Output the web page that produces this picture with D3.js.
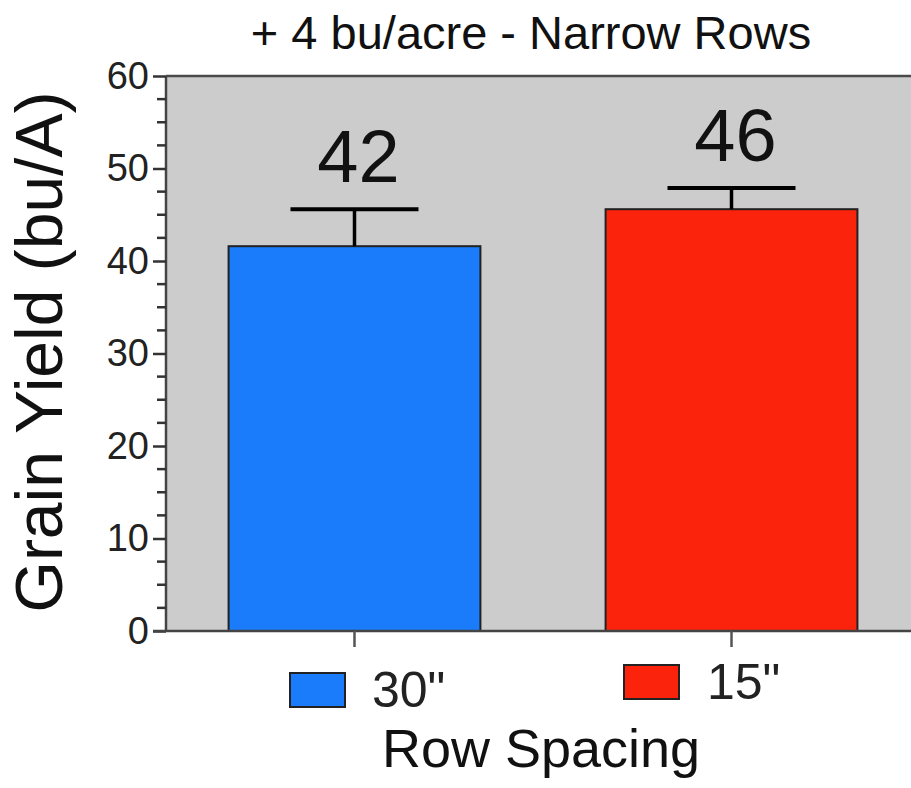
<!DOCTYPE html>
<html>
<head>
<meta charset="utf-8">
<script src="https://cdn.jsdelivr.net/npm/d3@7"></script>
<style>
  html, body { margin: 0; padding: 0; background: #fff; }
  svg { display: block; font-family: "Liberation Sans", Arial, Helvetica, sans-serif; }
</style>
</head>
<body>
<svg id="chart" width="911" height="788"></svg>
<script>
// Row spacing treatments and their mean grain yield (bu/A) with error (SE)
const categories = ['30"', '15"'];
const yieldMeans = [41.6, 45.6];
const yieldErrors = [4.0, 2.3];
const barColors = ["#1a7cfb", "#fb230b"];
const yTicks = [0, 10, 20, 30, 40, 50, 60];
const chartTitle = "+ 4 bu/acre - Narrow Rows";
const xTitle = "Row Spacing";
const yTitle = "Grain Yield (bu/A)";

const svg = d3.select("#chart");
const W = 911, H = 788;
const plot = { left: 166, top: 76, bottom: 631, right: 920 };

const rows = categories.map((c, i) => ({ cat: c, mean: yieldMeans[i], err: yieldErrors[i], color: barColors[i] }));

const x = d3.scaleBand()
  .domain(categories)
  .range([plot.left, plot.right])
  .paddingInner(0.332)
  .paddingOuter(0.166);

const y = d3.scaleLinear().domain([0, 60]).range([plot.bottom, plot.top]);

// plot area background
svg.append("rect")
  .attr("x", plot.left).attr("y", plot.top)
  .attr("width", plot.right - plot.left).attr("height", plot.bottom - plot.top)
  .attr("fill", "#cccccc");

// top frame line
svg.append("line")
  .attr("x1", plot.left).attr("x2", W)
  .attr("y1", plot.top).attr("y2", plot.top)
  .attr("stroke", "#4a4a4a").attr("stroke-width", 2.5);

// bars
svg.selectAll("rect.bar").data(rows).join("rect")
  .attr("class", "bar")
  .attr("x", d => x(d.cat))
  .attr("y", d => y(d.mean))
  .attr("width", x.bandwidth())
  .attr("height", d => y(0) - y(d.mean))
  .attr("fill", d => d.color)
  .attr("stroke", "#222")
  .attr("stroke-width", 2);

// upper error bars
const capHalf = 64;
const eb = svg.selectAll("g.err").data(rows).join("g").attr("class", "err");
eb.append("line")
  .attr("x1", d => x(d.cat) + x.bandwidth() / 2)
  .attr("x2", d => x(d.cat) + x.bandwidth() / 2)
  .attr("y1", d => y(d.mean))
  .attr("y2", d => y(d.mean + d.err))
  .attr("stroke", "#000").attr("stroke-width", 3.5);
eb.append("line")
  .attr("x1", d => x(d.cat) + x.bandwidth() / 2 - capHalf)
  .attr("x2", d => x(d.cat) + x.bandwidth() / 2 + capHalf)
  .attr("y1", d => y(d.mean + d.err))
  .attr("y2", d => y(d.mean + d.err))
  .attr("stroke", "#000").attr("stroke-width", 4);

// value labels above error bars
const fmt = d3.format(".0f");
svg.selectAll("text.val").data(rows).join("text")
  .attr("class", "val")
  .attr("x", d => x(d.cat) + x.bandwidth() / 2 + 4)
  .attr("y", d => y(d.mean + d.err) - 27)
  .attr("text-anchor", "middle")
  .attr("font-size", 74)
  .attr("fill", "#111")
  .text(d => fmt(d.mean));

// y axis with major and minor ticks
const yAxisG = svg.append("g").attr("transform", `translate(${plot.left},0)`);
yAxisG.call(d3.axisLeft(y).tickValues(yTicks).tickSize(13).tickPadding(4).tickFormat(d3.format("d")));
const minor = d3.range(0, 60.01, 2.5).filter(v => v % 10 !== 0);
yAxisG.selectAll("line.minor").data(minor).join("line")
  .attr("class", "minor")
  .attr("x1", -9).attr("x2", 0)
  .attr("y1", d => y(d)).attr("y2", d => y(d))
  .attr("stroke", "#333").attr("stroke-width", 2.5);
yAxisG.select(".domain").attr("stroke", "#444").attr("stroke-width", 2.5)
  .attr("d", `M0,${plot.top}V${plot.bottom}`);
yAxisG.selectAll(".tick line").attr("stroke", "#333").attr("stroke-width", 2.5);
yAxisG.selectAll(".tick text").attr("font-size", 38).attr("fill", "#222")
  .attr("font-family", "'Liberation Sans', Arial, sans-serif");

// x axis
const xAxisG = svg.append("g").attr("transform", `translate(0,${plot.bottom})`);
xAxisG.call(d3.axisBottom(x).tickSize(16).tickFormat(""));
xAxisG.select(".domain").attr("stroke", "#444").attr("stroke-width", 2.5)
  .attr("d", `M${plot.left - 13},0H${W}`);
xAxisG.selectAll(".tick line").attr("stroke", "#555").attr("stroke-width", 2.5);

// legend entries under each bar
const legendPos = [
  { sx: 290, sy: 673, tx: 372, ty: 707 },
  { sx: 624, sy: 665, tx: 707, ty: 699 }
];
const lg = svg.selectAll("g.legend").data(rows).join("g").attr("class", "legend");
lg.append("rect")
  .attr("x", (d, i) => legendPos[i].sx)
  .attr("y", (d, i) => legendPos[i].sy)
  .attr("width", 55).attr("height", 34)
  .attr("fill", d => d.color)
  .attr("stroke", "#222").attr("stroke-width", 2);
lg.append("text")
  .attr("x", (d, i) => legendPos[i].tx)
  .attr("y", (d, i) => legendPos[i].ty)
  .attr("font-size", 50)
  .attr("fill", "#222")
  .text(d => d.cat);

// titles
svg.append("text")
  .attr("x", 531).attr("y", 49)
  .attr("text-anchor", "middle")
  .attr("font-size", 47)
  .attr("fill", "#111")
  .text(chartTitle);

svg.append("text")
  .attr("x", 541).attr("y", 767)
  .attr("text-anchor", "middle")
  .attr("font-size", 54)
  .attr("fill", "#111")
  .text(xTitle);

svg.append("text")
  .attr("transform", "translate(62,352) rotate(-90)")
  .attr("text-anchor", "middle")
  .attr("font-size", 66)
  .attr("fill", "#111")
  .text(yTitle);
</script>
</body>
</html>
